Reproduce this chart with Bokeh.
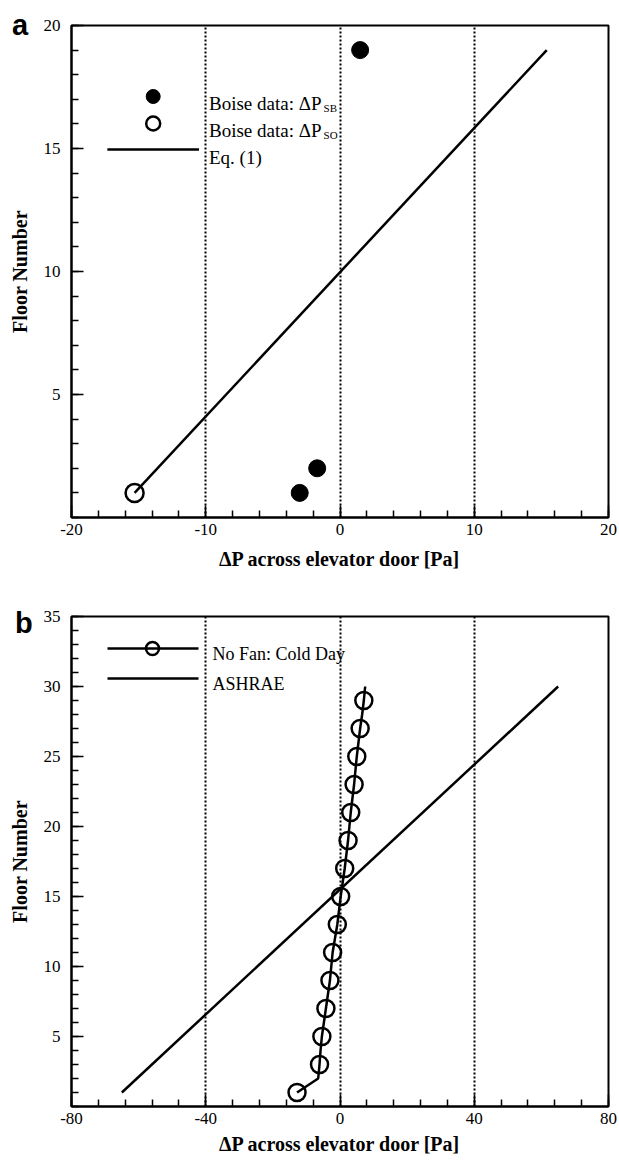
from bokeh.plotting import figure
from bokeh.models import Range1d, FixedTicker, Label, Div
from bokeh.layouts import column
from bokeh.embed import file_html
from bokeh.resources import INLINE

# ---------------- data ----------------
# panel a
sb_dp = [1.5, -3.0, -1.7]          # Boise data: dP_SB
sb_floor = [19, 1, 2]
so_dp = [-15.3]                    # Boise data: dP_SO
so_floor = [1]
eq1_dp = [-15.3, 15.4]             # Eq. (1)
eq1_floor = [1, 19]
a_xticks = [-20, -10, 0, 10, 20]
a_xlabels = ["-20", "-10", "0", "10", "20"]
a_xminor = [-20, -18, -16, -14, -12, -10, -8, -6, -4, -2, 0, 2, 4, 6, 8, 10, 12, 14, 16, 18, 20]
a_yticks = [5, 10, 15, 20]
a_yminor = [0, 1, 2, 3, 4, 5, 6, 7, 8, 9, 10, 11, 12, 13, 14, 15, 16, 17, 18, 19, 20]
a_grid = [-10, 0, 10]

# panel b
nofan_floor = [1, 2, 3, 4, 5, 6, 7, 8, 9, 10, 11, 12, 13, 14, 15,
               16, 17, 18, 19, 20, 21, 22, 23, 24, 25, 26, 27, 28, 29, 30]
nofan_dp = [-12.8, -6.5, -6.1, -5.8, -5.4, -4.8, -4.2, -3.6, -3.0, -2.6,
            -2.2, -1.5, -0.8, -0.3, 0.2, 0.8, 1.4, 1.9, 2.4, 2.8,
            3.2, 3.7, 4.2, 4.6, 5.0, 5.5, 6.0, 6.6, 7.1, 7.5]
ashrae_dp = [-65, 65]
ashrae_floor = [1, 30]
b_xticks = [-80, -40, 0, 40, 80]
b_xlabels = ["-80", "-40", "0", "40", "80"]
b_xminor = [-80, -72, -64, -56, -48, -40, -32, -24, -16, -8, 0, 8, 16, 24, 32, 40, 48, 56, 64, 72, 80]
b_yticks = [5, 10, 15, 20, 25, 30, 35]
b_yminor = list(range(0, 36))
b_grid = [-40, 0, 40]

SERIF = "Liberation Serif"
SANS = "Liberation Sans"
XLABEL = "\u0394P across elevator door [Pa]"
YLABEL = "Floor Number"


def make_fig(xr, yr, width, height, bl, br, bt, bb):
    p = figure(width=width, height=height, x_range=Range1d(*xr), y_range=Range1d(*yr),
               output_backend="svg", toolbar_location=None,
               min_border_left=bl, min_border_right=br, min_border_top=bt, min_border_bottom=bb)
    p.background_fill_color = "white"
    p.border_fill_color = "white"
    p.outline_line_color = "black"
    p.outline_line_width = 2
    p.outline_line_alpha = 1.0
    return p


def style_axes(p, xt, xl, xm, yt, ym, grid, x_label_standoff):
    p.xaxis.ticker = FixedTicker(ticks=xt, minor_ticks=xm)
    p.yaxis.ticker = FixedTicker(ticks=yt, minor_ticks=ym)
    p.xaxis.major_label_overrides = {t: s for t, s in zip(xt, xl)}
    for ax in (p.xaxis, p.yaxis):
        ax.axis_line_color = "black"
        ax.axis_line_width = 2
        ax.major_tick_in = 12
        ax.major_tick_out = 0
        ax.minor_tick_in = 7
        ax.minor_tick_out = 0
        ax.major_tick_line_color = "black"
        ax.major_tick_line_width = 1.5
        ax.minor_tick_line_color = "black"
        ax.minor_tick_line_width = 1.5
        ax.major_label_text_font = SERIF
        ax.major_label_text_font_size = "17px"
        ax.major_label_text_color = "black"
        ax.axis_label_text_font = SERIF
        ax.axis_label_text_font_size = "20px"
        ax.axis_label_text_font_style = "bold"
        ax.axis_label_text_color = "black"
    p.xaxis.axis_label = XLABEL
    p.yaxis.axis_label = YLABEL
    p.xaxis.major_label_standoff = 6
    p.xaxis.axis_label_standoff = x_label_standoff
    p.yaxis.major_label_standoff = 11
    p.yaxis.axis_label_standoff = 10
    p.ygrid.visible = False
    p.xgrid.ticker = FixedTicker(ticks=grid)
    p.xgrid.grid_line_color = "black"
    p.xgrid.grid_line_dash = "2 2"
    p.xgrid.grid_line_width = 2


def text(p, x, y, s, size, font=SERIF, style="normal"):
    p.add_layout(Label(x=x, y=y, x_range_name="px", y_range_name="px", text=s,
                       text_font=font, text_font_size=size, text_font_style=style,
                       text_color="black", text_baseline="alphabetic", text_align="left"))


def panel_letter(s, left, top):
    return Div(text=s, width=20, height=30,
               styles={"position": "absolute", "left": f"{left}px", "top": f"{top}px",
                       "font-family": SANS, "font-weight": "bold",
                       "font-size": "29px", "line-height": "29px", "color": "black",
                       "z-index": "5"})


# ---------------- panel a ----------------
FW_A, FH_A = 539, 492
pa = make_fig((-20, 20), (0, 20), 619, 588, 69, 11, 25, 71)
pa.extra_x_ranges = {"px": Range1d(0, FW_A)}
pa.extra_y_ranges = {"px": Range1d(0, FH_A)}
style_axes(pa, a_xticks, a_xlabels, a_xminor, a_yticks, a_yminor, a_grid, 10)

pa.line(eq1_dp, eq1_floor, line_color="black", line_width=2.5)
pa.scatter(sb_dp, sb_floor, marker="circle", size=17, fill_color="black", line_color="black")
pa.scatter(so_dp, so_floor, marker="circle", size=18, fill_color=None, line_color="black", line_width=2.5)

# legend (frame pixel coordinates)
pa.scatter([82], [421], marker="circle", size=14, fill_color="black", line_color="black",
           x_range_name="px", y_range_name="px")
pa.scatter([82], [394], marker="circle", size=14, fill_color=None, line_color="black", line_width=2.5,
           x_range_name="px", y_range_name="px")
pa.line([36, 128], [368, 368], line_color="black", line_width=2.5, x_range_name="px", y_range_name="px")
text(pa, 138, 414, "Boise data: \u0394P", "19px")
text(pa, 253, 410, "SB", "11px")
text(pa, 138, 387, "Boise data: \u0394P", "19px")
text(pa, 253, 383, "SO", "11px")
text(pa, 138, 360, "Eq. (1)", "19px")

# ---------------- panel b ----------------
FW_B, FH_B = 537, 490
pb = make_fig((-80, 80), (0, 35), 619, 572, 71, 11, 28, 54)
pb.extra_x_ranges = {"px": Range1d(0, FW_B)}
pb.extra_y_ranges = {"px": Range1d(0, FH_B)}
style_axes(pb, b_xticks, b_xlabels, b_xminor, b_yticks, b_yminor, b_grid, 6)

pb.line(ashrae_dp, ashrae_floor, line_color="black", line_width=2.5)
pb.line(nofan_dp, nofan_floor, line_color="black", line_width=2.5)
pb.scatter(nofan_dp[::2], nofan_floor[::2], marker="circle", size=17, fill_color=None,
           line_color="black", line_width=2.5)

pb.line([36, 127], [458, 458], line_color="black", line_width=2.5, x_range_name="px", y_range_name="px")
pb.scatter([81], [458], marker="circle", size=13, fill_color=None, line_color="black", line_width=2.5,
           x_range_name="px", y_range_name="px")
pb.line([36, 127], [428, 428], line_color="black", line_width=2.5, x_range_name="px", y_range_name="px")
text(pb, 141, 453, "No Fan: Cold Day", "18px")
text(pb, 141, 423, "ASHRAE", "18px")

div_a = panel_letter("a", 7, 6)
div_b = panel_letter("b", 10, 604)

layout = column(pa, pb, div_a, div_b, spacing=0)
open("out.html", "w").write(file_html(layout, INLINE))
